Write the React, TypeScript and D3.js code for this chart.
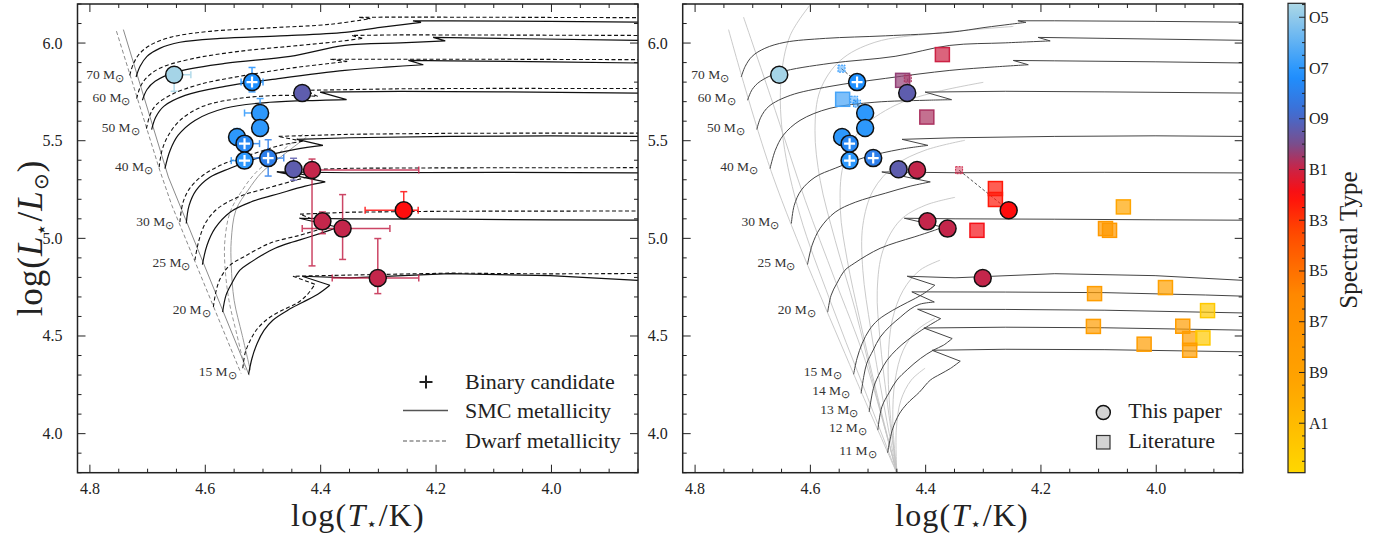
import React from "react";
import * as d3 from "d3";

const FONT = "'Liberation Serif', 'Times New Roman', serif";

// ---------------- evolutionary tracks  [logT, logL] ----------------
const trackMasses = [70, 60, 50, 40, 30, 25, 20, 15];

const smc70 = [[4.720,5.826],[4.713,5.881],[4.701,5.932],[4.679,5.973],[4.644,6.004],[4.574,6.024],[4.470,6.037],[4.358,6.055],[4.297,6.080],[4.254,6.096],[4.226,6.106],[4.240,6.114],[4.176,6.114],[4.002,6.111],[3.850,6.107]];
const smc60 = [[4.709,5.707],[4.701,5.762],[4.687,5.804],[4.653,5.850],[4.566,5.896],[4.453,5.932],[4.358,5.988],[4.262,6.001],[4.184,6.011],[4.205,6.029],[4.089,6.024],[3.850,6.014]];
const smc50 = [[4.693,5.557],[4.686,5.620],[4.672,5.676],[4.635,5.732],[4.566,5.778],[4.470,5.819],[4.358,5.860],[4.280,5.878],[4.222,5.889],[4.248,5.911],[4.176,5.909],[4.002,5.904],[3.850,5.898]];
const smc40 = [[4.670,5.357],[4.661,5.450],[4.647,5.528],[4.618,5.604],[4.566,5.666],[4.488,5.697],[4.401,5.707],[4.355,5.710],[4.401,5.749],[4.262,5.753],[4.089,5.750],[3.850,5.744]];
const smc30 = [[4.633,5.076],[4.628,5.169],[4.616,5.246],[4.592,5.313],[4.557,5.359],[4.505,5.415],[4.444,5.456],[4.396,5.476],[4.441,5.507],[4.349,5.515],[4.176,5.522],[4.002,5.525],[3.850,5.522]];
const smc25 = [[4.605,4.866],[4.597,4.965],[4.583,5.052],[4.557,5.134],[4.522,5.185],[4.470,5.231],[4.427,5.267],[4.392,5.289],[4.476,5.340],[4.349,5.336],[4.089,5.338],[3.850,5.335]];
const smc20 = [[4.570,4.622],[4.564,4.709],[4.554,4.770],[4.540,4.837],[4.524,4.872],[4.502,4.913],[4.479,4.949],[4.450,4.980],[4.420,5.007],[4.385,5.041],[4.370,5.057],[4.437,5.103],[4.349,5.100],[4.176,5.098],[4.002,5.095],[3.850,5.093]];
const smc15 = [[4.525,4.304],[4.519,4.386],[4.510,4.463],[4.498,4.530],[4.483,4.581],[4.457,4.632],[4.431,4.673],[4.405,4.714],[4.384,4.760],[4.432,4.806],[4.349,4.798],[4.176,4.819],[4.002,4.809],[3.850,4.785]];

const dwarf70 = [[4.731,5.835],[4.725,5.891],[4.715,5.942],[4.696,5.988],[4.661,6.029],[4.592,6.060],[4.488,6.078],[4.384,6.096],[4.314,6.125],[4.335,6.132],[4.262,6.133],[4.089,6.132],[3.850,6.130]];
const dwarf60 = [[4.719,5.715],[4.713,5.773],[4.703,5.819],[4.679,5.871],[4.627,5.917],[4.540,5.958],[4.436,5.988],[4.366,6.009],[4.328,6.024],[4.346,6.039],[4.262,6.042],[4.089,6.041],[3.850,6.039]];
const dwarf50 = [[4.702,5.562],[4.696,5.630],[4.686,5.681],[4.658,5.737],[4.609,5.789],[4.540,5.830],[4.453,5.871],[4.384,5.896],[4.354,5.906],[4.384,5.917],[4.262,5.917],[4.089,5.917],[3.850,5.915]];
const dwarf40 = [[4.680,5.365],[4.675,5.450],[4.665,5.522],[4.644,5.604],[4.604,5.676],[4.540,5.717],[4.470,5.732],[4.405,5.727],[4.427,5.758],[4.262,5.766],[4.089,5.768],[3.850,5.767]];
const dwarf30 = [[4.644,5.084],[4.639,5.180],[4.627,5.256],[4.604,5.323],[4.566,5.384],[4.514,5.436],[4.470,5.476],[4.431,5.497],[4.474,5.522],[4.349,5.533],[4.176,5.538],[4.002,5.539],[3.850,5.539]];
const dwarf25 = [[4.618,4.888],[4.611,4.990],[4.599,5.082],[4.578,5.154],[4.540,5.215],[4.488,5.261],[4.444,5.297],[4.418,5.318],[4.462,5.348],[4.349,5.359],[4.176,5.361],[3.850,5.362]];
const dwarf20 = [[4.586,4.649],[4.581,4.734],[4.573,4.801],[4.557,4.863],[4.531,4.909],[4.488,4.975],[4.436,5.016],[4.401,5.047],[4.384,5.062],[4.436,5.124],[4.349,5.134],[4.176,5.139],[3.850,5.140]];
const dwarf15 = [[4.535,4.335],[4.531,4.412],[4.522,4.478],[4.509,4.540],[4.488,4.596],[4.463,4.637],[4.441,4.668],[4.424,4.709],[4.410,4.765],[4.448,4.806],[4.349,4.812],[4.176,4.822],[4.002,4.818],[3.850,4.820]];

const extraMasses = [14, 13, 12, 11];
const smc14 = [[4.512,4.206],[4.507,4.299],[4.502,4.361],[4.491,4.428],[4.479,4.494],[4.462,4.550],[4.444,4.596],[4.427,4.637],[4.410,4.663],[4.385,4.674],[4.424,4.726],[4.262,4.725],[4.089,4.722],[3.915,4.710],[3.850,4.704]];
const smc13 = [[4.498,4.111],[4.490,4.239],[4.479,4.315],[4.467,4.376],[4.450,4.432],[4.432,4.478],[4.415,4.514],[4.398,4.547],[4.374,4.589],[4.414,4.637],[4.262,4.636],[4.089,4.632],[3.850,4.618]];
const smc12 = [[4.483,4.018],[4.476,4.137],[4.463,4.212],[4.450,4.274],[4.431,4.330],[4.409,4.385],[4.387,4.427],[4.369,4.453],[4.354,4.487],[4.403,4.541],[4.262,4.545],[4.089,4.542],[3.850,4.530]];
const smc11 = [[4.466,3.902],[4.458,4.018],[4.446,4.100],[4.432,4.154],[4.411,4.212],[4.392,4.274],[4.375,4.304],[4.357,4.334],[4.340,4.371],[4.389,4.427],[4.262,4.432],[4.089,4.430],[3.850,4.419]];

// ZAMS-like grey lines and grey curves (left panel)
const zamsSolid = [[4.742,6.069],[4.664,5.314],[4.524,4.299]];
const zamsDashed = [[4.754,6.061],[4.679,5.349],[4.658,5.169],[4.538,4.308]];
const greySolid = [[4.425,5.517],[4.470,5.415],[4.502,5.338],[4.526,5.246],[4.547,5.144],[4.555,4.990],[4.555,4.862],[4.550,4.683],[4.536,4.504],[4.522,4.325]];
const greyDashed = [[4.431,5.533],[4.477,5.425],[4.512,5.338],[4.536,5.246],[4.557,5.134],[4.566,4.990],[4.566,4.862],[4.559,4.683],[4.545,4.504],[4.531,4.325]];

// light grey curves (right panel)
const iso1 = [[4.742,6.069],[4.665,5.318],[4.524,4.299],[4.450,3.798]];
const iso2 = [[4.716,6.133],[4.661,5.656],[4.609,5.195],[4.557,4.785],[4.505,4.376],[4.450,3.798]];
const iso3 = [[4.601,6.193],[4.635,6.039],[4.651,5.809],[4.647,5.502],[4.618,5.118],[4.566,4.683],[4.509,4.248],[4.450,3.798]];
const iso4 = [[4.248,6.085],[4.384,6.050],[4.488,6.004],[4.548,5.911],[4.583,5.758],[4.592,5.553],[4.583,5.297],[4.557,4.990],[4.522,4.632],[4.488,4.223],[4.450,3.798]];
const iso5 = [[4.300,5.799],[4.384,5.748],[4.453,5.681],[4.514,5.553],[4.543,5.374],[4.548,5.144],[4.536,4.888],[4.514,4.581],[4.484,4.197],[4.450,3.798]];
const iso6 = [[4.332,5.502],[4.401,5.451],[4.453,5.374],[4.491,5.246],[4.509,5.067],[4.509,4.837],[4.495,4.530],[4.474,4.171],[4.450,3.798]];
const iso7 = [[4.349,5.210],[4.401,5.169],[4.444,5.093],[4.474,4.939],[4.484,4.734],[4.479,4.478],[4.467,4.171],[4.450,3.798]];
const iso8 = [[4.375,4.888],[4.410,4.837],[4.439,4.734],[4.458,4.581],[4.465,4.376],[4.462,4.120],[4.450,3.798]];
const iso9 = [[4.384,4.591],[4.415,4.530],[4.439,4.427],[4.453,4.274],[4.457,4.069],[4.450,3.798]];
const iso10 = [[4.401,4.335],[4.425,4.274],[4.443,4.171],[4.451,4.018],[4.450,3.798]];

// ---------------- this paper ----------------
const starT = [4.654, 4.519, 4.432, 4.505, 4.505, 4.545, 4.532, 4.532, 4.491, 4.447, 4.415, 4.397, 4.362, 4.256, 4.301];
const starL = [5.838, 5.800, 5.744, 5.642, 5.565, 5.519, 5.485, 5.398, 5.411, 5.354, 5.350, 5.087, 5.050, 5.144, 4.797];
const starSp = [4.6, 7.3, 9.4, 7.0, 7.0, 7.0, 7.7, 7.0, 8.0, 9.4, 10.9, 10.9, 10.9, 12.0, 10.9];
const starBinary = [false, true, false, false, false, false, true, true, true, false, false, false, false, false, false];
const errHot = [0.008, 0.019, 0, 0.027, 0, 0, 0, 0.023, 0.049, 0, 0, 0, 0.07, 0.067, 0.079];
const errCool = [0.029, 0.019, 0, 0.01, 0, 0, 0.026, 0, 0.027, 0, 0.185, 0, 0.082, 0.025, 0.071];
const errUp = [0, 0.075, 0, 0.074, 0, 0.043, 0, 0, 0.094, 0.056, 0.056, 0.048, 0.174, 0.095, 0.202];
const errDown = [0.085, 0.05, 0, 0.03, 0, 0, 0, 0, 0.092, 0.056, 0.491, 0.063, 0.158, 0.015, 0.08];

// ---------------- literature ----------------
const litT = [4.544, 4.440, 4.371, 4.398, 4.311, 4.279, 4.279, 4.057, 4.088, 4.081, 4.107, 3.984, 3.911, 4.109, 3.954, 3.942, 3.919, 4.021, 3.942];
const litL = [5.712, 5.809, 5.941, 5.621, 5.041, 5.255, 5.199, 5.161, 5.050, 5.041, 4.717, 4.748, 4.630, 4.549, 4.550, 4.487, 4.490, 4.458, 4.427];
const litSp = [6.5, 10.3, 11.0, 10.6, 11.8, 12.3, 12.3, 19.5, 18.0, 18.0, 18.5, 19.0, 22.0, 18.5, 18.5, 18.5, 22.0, 18.5, 18.5];
const smallT = [4.546, 4.524, 4.519, 4.431, 4.342];
const smallL = [5.869, 5.710, 5.690, 5.818, 5.349];
const smallSp = [7.0, 7.0, 7.0, 10.6, 11.0];
const smallLink = [1, 3, 4, 2, 13];

// ---------------- axes / colour bar ----------------
const xTickVals = [4.8, 4.6, 4.4, 4.2, 4.0];
const xTickLabels = ["4.8", "4.6", "4.4", "4.2", "4.0"];
const yTickVals = [4.0, 4.5, 5.0, 5.5, 6.0];
const yTickLabels = ["4.0", "4.5", "5.0", "5.5", "6.0"];
const cbTickVals = [5, 7, 9, 11, 13, 15, 17, 19, 21];
const cbTickLabels = ["O5", "O7", "O9", "B1", "B3", "B5", "B7", "B9", "A1"];
const cmapVals = [4.45, 7.3, 8.7, 10.0, 11.0, 12.0, 13.5, 16.0, 19.5, 22.95];
const cmapColors = ["#add8e6", "#1e90ff", "#3d6fd6", "#7a4d8c", "#cc2244", "#ff0d0d", "#ff4a00", "#ff8a00", "#ffa500", "#ffd700"];

const smcTracks = [smc70, smc60, smc50, smc40, smc30, smc25, smc20, smc15];
const dwarfTracks = [dwarf70, dwarf60, dwarf50, dwarf40, dwarf30, dwarf25, dwarf20, dwarf15];
const extraTracks = [smc14, smc13, smc12, smc11];
const rightIso = [iso1, iso2, iso3, iso4, iso5, iso6, iso7, iso8, iso9, iso10];

const Y0 = 4, Y1 = 472.7;

function Frame({ xs, x0, x1 }: any) {
  const y = d3.scaleLinear().domain([3.8, 6.2]).range([Y1, Y0]);
  const xMinor = d3.range(3.85, 4.8201, 0.05).filter((v) => !xTickVals.some((t) => Math.abs(t - v) < 1e-6));
  const yMinor = d3.range(3.8, 6.2001, 0.1).filter((v) => !yTickVals.some((t) => Math.abs(t - v) < 1e-6));
  return (
    <g>
      {xTickVals.map((v, i) => (
        <g key={"xt" + i}>
          <line x1={xs(v)} x2={xs(v)} y1={Y1} y2={Y1 - 8} stroke="#222" strokeWidth={1} />
          <line x1={xs(v)} x2={xs(v)} y1={Y0} y2={Y0 + 8} stroke="#222" strokeWidth={1} />
          <text x={xs(v)} y={494} textAnchor="middle" fontSize={16} fontFamily={FONT} fill="#222">{xTickLabels[i]}</text>
        </g>
      ))}
      {xMinor.map((v, i) => (
        <g key={"xm" + i}>
          <line x1={xs(v)} x2={xs(v)} y1={Y1} y2={Y1 - 4} stroke="#222" strokeWidth={1} />
          <line x1={xs(v)} x2={xs(v)} y1={Y0} y2={Y0 + 4} stroke="#222" strokeWidth={1} />
        </g>
      ))}
      {yTickVals.map((v, i) => (
        <g key={"yt" + i}>
          <line x1={x0} x2={x0 + 8} y1={y(v)} y2={y(v)} stroke="#222" strokeWidth={1} />
          <line x1={x1} x2={x1 - 8} y1={y(v)} y2={y(v)} stroke="#222" strokeWidth={1} />
          <text x={x0 - 15} y={y(v) + 5.5} textAnchor="end" fontSize={16} fontFamily={FONT} fill="#222">{yTickLabels[i]}</text>
        </g>
      ))}
      {yMinor.map((v, i) => (
        <g key={"ym" + i}>
          <line x1={x0} x2={x0 + 4} y1={y(v)} y2={y(v)} stroke="#222" strokeWidth={1} />
          <line x1={x1} x2={x1 - 4} y1={y(v)} y2={y(v)} stroke="#222" strokeWidth={1} />
        </g>
      ))}
      <rect x={x0} y={Y0} width={x1 - x0} height={Y1 - Y0} fill="none" stroke="#222" strokeWidth={1.5} />
    </g>
  );
}

function MassLabel({ x, y, m }: any) {
  return (
    <text x={x} y={y} textAnchor="end" fontSize={13.5} fontFamily={FONT} fill="#333">
      {m} M<tspan fontSize={10.5} dy={3}>⊙</tspan>
    </text>
  );
}

export default function App() {
  const xL = d3.scaleLinear().domain([4.8215, 3.85]).range([77.5, 638]);
  const xR = d3.scaleLinear().domain([4.8215, 3.85]).range([682.7, 1242.7]);
  const y = d3.scaleLinear().domain([3.8, 6.2]).range([Y1, Y0]);
  const cmap = d3.scaleLinear<string>().domain(cmapVals).range(cmapColors).interpolate(d3.interpolateRgb).clamp(true);
  const cbY = d3.scaleLinear().domain([4.45, 22.95]).range([3.3, 472.7]);

  // smooth rising part up to the hook tip, straight segments afterwards
  const trackPath = (xs: any, t: number[][]) => {
    let k = t.length - 1;
    for (let i = 0; i < t.length - 1; i++) {
      if (t[i + 1][0] > t[i][0]) { k = i; break; }
    }
    const smooth = d3.line<number[]>().x((d) => xs(d[0])).y((d) => y(d[1])).curve(d3.curveCatmullRom.alpha(0.5));
    const straight = d3.line<number[]>().x((d) => xs(d[0])).y((d) => y(d[1]));
    return (smooth(t.slice(0, k + 1)) || "") + (k < t.length - 1 ? (straight(t.slice(k)) || "") : "");
  };
  const smoothL = d3.line<number[]>().x((d) => xL(d[0])).y((d) => y(d[1])).curve(d3.curveCatmullRom.alpha(0.5));
  const smoothR = d3.line<number[]>().x((d) => xR(d[0])).y((d) => y(d[1])).curve(d3.curveCatmullRom.alpha(0.5));
  const straightL = d3.line<number[]>().x((d) => xL(d[0])).y((d) => y(d[1]));

  const R = 8.5;
  const cap = 3.5;

  const gradStops = d3.range(0, 1.0001, 0.02).map((t) => ({ t, c: cmap(4.45 + t * (22.95 - 4.45)) }));
  const cbMinor = d3.range(4.5, 22.95, 0.5).filter((v) => !cbTickVals.includes(v));

  const plus = (cx: number, cy: number, col: string, s: number, w: number, key: string) => (
    <g key={key}>
      <line x1={cx - s} x2={cx + s} y1={cy} y2={cy} stroke={col} strokeWidth={w} />
      <line x1={cx} x2={cx} y1={cy - s} y2={cy + s} stroke={col} strokeWidth={w} />
    </g>
  );

  const tLabel = (cx: number) => (
    <text x={cx} y={526} textAnchor="middle" fontSize={32} fill="#222" letterSpacing={1.2}>
      log(<tspan fontStyle="italic">T</tspan><tspan fontSize={18} dy={4}>⋆</tspan><tspan dy={-4}>/K)</tspan>
    </text>
  );

  return (
    <svg width={1374} height={535} style={{ position: "absolute", left: 0, top: 0, background: "#fff" }} fontFamily={FONT}>
      <defs>
        <clipPath id="clipL"><rect x={77.5} y={Y0} width={638 - 77.5} height={Y1 - Y0} /></clipPath>
        <clipPath id="clipR"><rect x={682.7} y={Y0} width={1242.7 - 682.7} height={Y1 - Y0} /></clipPath>
        <linearGradient id="cbGrad" x1="0" y1="0" x2="0" y2="1">
          {gradStops.map((s, i) => <stop key={i} offset={s.t} stopColor={s.c} />)}
        </linearGradient>
      </defs>

      {/* ================= LEFT PANEL ================= */}
      <g clipPath="url(#clipL)">
        <path d={straightL(zamsSolid) || ""} fill="none" stroke="#8a8a8a" strokeWidth={1} />
        <path d={straightL(zamsDashed) || ""} fill="none" stroke="#8a8a8a" strokeWidth={1} strokeDasharray="4,2.5" />
        <path d={smoothL(greySolid) || ""} fill="none" stroke="#9a9a9a" strokeWidth={1} />
        <path d={smoothL(greyDashed) || ""} fill="none" stroke="#9a9a9a" strokeWidth={1} strokeDasharray="4,2.5" />
        {dwarfTracks.map((t, i) => (
          <path key={"d" + i} d={trackPath(xL, t)} fill="none" stroke="#111" strokeWidth={1.1} strokeDasharray="4,2.5" />
        ))}
        {smcTracks.map((t, i) => (
          <path key={"s" + i} d={trackPath(xL, t)} fill="none" stroke="#111" strokeWidth={1.2} />
        ))}
        {/* error bars */}
        {starT.map((T, i) => {
          const col = cmap(starSp[i]);
          const cx = xL(T), cy = y(starL[i]);
          const parts: any[] = [];
          if (errHot[i] > 0) {
            const xe = xL(T + errHot[i]);
            parts.push(<line key="h" x1={cx} x2={xe} y1={cy} y2={cy} stroke={col} strokeWidth={1.5} />);
            parts.push(<line key="hc" x1={xe} x2={xe} y1={cy - cap} y2={cy + cap} stroke={col} strokeWidth={1.5} />);
          }
          if (errCool[i] > 0) {
            const xe = xL(T - errCool[i]);
            parts.push(<line key="c" x1={cx} x2={xe} y1={cy} y2={cy} stroke={col} strokeWidth={1.5} />);
            parts.push(<line key="cc" x1={xe} x2={xe} y1={cy - cap} y2={cy + cap} stroke={col} strokeWidth={1.5} />);
          }
          if (errUp[i] > 0) {
            const ye = y(starL[i] + errUp[i]);
            parts.push(<line key="u" x1={cx} x2={cx} y1={cy} y2={ye} stroke={col} strokeWidth={1.5} />);
            parts.push(<line key="uc" x1={cx - cap} x2={cx + cap} y1={ye} y2={ye} stroke={col} strokeWidth={1.5} />);
          }
          if (errDown[i] > 0) {
            const ye = y(starL[i] - errDown[i]);
            parts.push(<line key="dn" x1={cx} x2={cx} y1={cy} y2={ye} stroke={col} strokeWidth={1.5} />);
            parts.push(<line key="dc" x1={cx - cap} x2={cx + cap} y1={ye} y2={ye} stroke={col} strokeWidth={1.5} />);
          }
          return <g key={"e" + i} opacity={0.85}>{parts}</g>;
        })}
        {starT.map((T, i) => (
          <g key={"pL" + i}>
            <circle cx={xL(T)} cy={y(starL[i])} r={R} fill={cmap(starSp[i])} stroke="#111" strokeWidth={1.5} />
            {starBinary[i] && plus(xL(T), y(starL[i]), "#fff", 5.5, 2.2, "b" + i)}
          </g>
        ))}
      </g>
      {trackMasses.map((m, i) => (
        <MassLabel key={"ml" + i} x={xL(smcTracks[i][0][0]) - 12} y={y(smcTracks[i][0][1]) + 2} m={m} />
      ))}
      <Frame xs={xL} x0={77.5} x1={638} />

      {/* left legend */}
      {plus(426, 382, "#222", 6.5, 2, "legplus")}
      <text x={465} y={389} fontSize={22} fill="#222">Binary candidate</text>
      <line x1={403} x2={448} y1={410.5} y2={410.5} stroke="#555" strokeWidth={1.5} />
      <text x={465} y={418} fontSize={22} fill="#222">SMC metallicity</text>
      <line x1={403} x2={448} y1={441} y2={441} stroke="#555" strokeWidth={1.2} strokeDasharray="4,2.5" />
      <text x={465} y={448} fontSize={22} fill="#222">Dwarf metallicity</text>

      {/* axis labels */}
      <text transform="translate(42,238) rotate(-90)" textAnchor="middle" fontSize={35} fill="#222" letterSpacing={1}>
        log(<tspan fontStyle="italic">L</tspan><tspan fontSize={20} dy={6}>⋆</tspan><tspan dy={-6}>/</tspan><tspan fontStyle="italic">L</tspan><tspan fontSize={20} dy={6}>⊙</tspan><tspan dy={-6}>)</tspan>
      </text>
      {tLabel(358)}

      {/* ================= RIGHT PANEL ================= */}
      <g clipPath="url(#clipR)">
        {rightIso.map((t, i) => (
          <path key={"iso" + i} d={smoothR(t) || ""} fill="none" stroke="#c4c4c4" strokeWidth={0.9} />
        ))}
        {smcTracks.concat(extraTracks).map((t, i) => (
          <path key={"rt" + i} d={trackPath(xR, t)} fill="none" stroke="#444" strokeWidth={1} />
        ))}
        {smallT.map((T, i) => (
          <line key={"cn" + i} x1={xR(T)} y1={y(smallL[i])} x2={xR(starT[smallLink[i]])} y2={y(starL[smallLink[i]])}
            stroke="#555" strokeWidth={1} strokeDasharray="3,2" />
        ))}
        {litT.map((T, i) => (
          <rect key={"lit" + i} x={xR(T) - 7} y={y(litL[i]) - 7} width={14} height={14}
            fill={cmap(litSp[i])} fillOpacity={0.7} stroke={cmap(litSp[i])} strokeWidth={1.5} />
        ))}
        {smallT.map((T, i) => (
          <rect key={"sm" + i} x={xR(T) - 3.5} y={y(smallL[i]) - 3.5} width={7} height={7}
            fill={cmap(smallSp[i])} fillOpacity={0.45} stroke={cmap(smallSp[i])} strokeWidth={1} strokeDasharray="2,1" />
        ))}
        {starT.map((T, i) => (
          <g key={"pR" + i}>
            <circle cx={xR(T)} cy={y(starL[i])} r={R} fill={cmap(starSp[i])} stroke="#111" strokeWidth={1.5} />
            {starBinary[i] && plus(xR(T), y(starL[i]), "#fff", 5.5, 2.2, "rb" + i)}
          </g>
        ))}
      </g>
      {trackMasses.map((m, i) => (
        <MassLabel key={"mr" + i} x={xR(smcTracks[i][0][0]) - 12} y={y(smcTracks[i][0][1]) + 2} m={m} />
      ))}
      {extraMasses.map((m, i) => (
        <MassLabel key={"me" + i} x={xR(extraTracks[i][0][0]) - 11} y={y(extraTracks[i][0][1]) + 2} m={m} />
      ))}
      <Frame xs={xR} x0={682.7} x1={1242.7} />

      {/* right legend */}
      <circle cx={1103.3} cy={412.5} r={7} fill="#d3d3d3" stroke="#111" strokeWidth={1.5} />
      <text x={1128.3} y={418} fontSize={22} fill="#222">This paper</text>
      <rect x={1096.5} y={435.5} width={13.5} height={13.5} fill="#d3d3d3" stroke="#333" strokeWidth={1.2} />
      <text x={1128.3} y={448} fontSize={22} fill="#222">Literature</text>

      {tLabel(962)}

      {/* ================= COLOUR BAR ================= */}
      <rect x={1288} y={3.3} width={17} height={469.4} fill="url(#cbGrad)" stroke="#222" strokeWidth={1.2} />
      {cbTickVals.map((v, i) => (
        <g key={"cb" + i}>
          <line x1={1305} x2={1299} y1={cbY(v)} y2={cbY(v)} stroke="#222" strokeWidth={1} />
          <text x={1309} y={cbY(v) + 5.5} fontSize={16} fill="#222">{cbTickLabels[i]}</text>
        </g>
      ))}
      {cbMinor.map((v, i) => (
        <line key={"cbm" + i} x1={1305} x2={1302} y1={cbY(v)} y2={cbY(v)} stroke="#222" strokeWidth={1} />
      ))}
      <text transform="translate(1357,240) rotate(-90)" textAnchor="middle" fontSize={25} fill="#222">Spectral Type</text>
    </svg>
  );
}
